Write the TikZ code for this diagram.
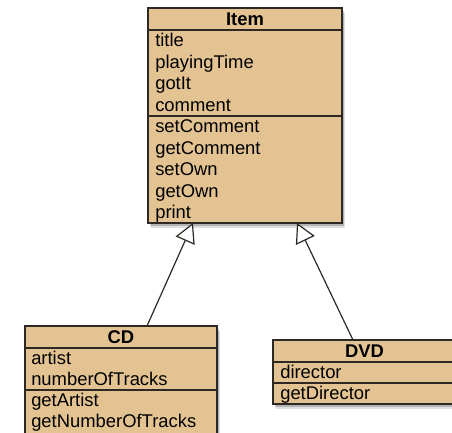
\documentclass[tikz,border=0pt]{standalone}
\usepackage{fontspec}
\setmainfont{Liberation Sans}
\usetikzlibrary{arrows.meta,shadows,calc}
\definecolor{classfill}{RGB}{227,195,146}
\definecolor{classline}{RGB}{45,40,35}
\tikzset{
  classbox/.style={draw=classline, line width=1.1pt, fill=classfill, inner sep=0pt, outer sep=0pt,
    general shadow={shadow xshift=2pt, shadow yshift=-3.5pt, opacity=0.12, fill=black},
    general shadow={shadow xshift=1.2pt, shadow yshift=-2.2pt, opacity=0.2, fill=black}},
  divider/.style={draw=classline, line width=1pt},
  member/.style={anchor=west, inner sep=0pt, text height=9.8pt, text depth=2.8pt,
    font=\fontsize{13.8}{16}\selectfont, text=black},
  classname/.style={member, anchor=center, font=\fontsize{13.8}{16}\selectfont\bfseries},
  inherits/.style={draw=classline, line width=0.9pt,
    -{Triangle[open, fill=white, length=14.5pt, width=15.5pt, line width=0.9pt]}}
}
\begin{document}
\begin{tikzpicture}[x=0.75pt, y=-0.75pt]
  \useasboundingbox (0,0) rectangle (452,432);
  \clip (0,0) rectangle (452,432);

  % class boxes
  \node[classbox, minimum width=145.5pt, minimum height=161.25pt] (item) at (245,115.5) {};
  \node[classbox, minimum width=144pt, minimum height=81pt] (cd) at (121,380) {};
  \node[classbox, minimum width=137.25pt, minimum height=48pt] (dvd) at (364.5,372) {};

  % compartment dividers
  \draw[divider] (148,30) -- (342,30);
  \draw[divider] (148,116) -- (342,116);
  \draw[divider] (25,348) -- (217,348);
  \draw[divider] (25,390) -- (217,390);
  \draw[divider] (273,362) -- (456,362);
  \draw[divider] (273,383) -- (456,383);

  % Item
  \node[classname] (item-name) at (245,20.5) {Item};
  \node[member] (item-a1) at (155,42.2) {title};
  \node[member] (item-a2) at (155,63.7) {playingTime};
  \node[member] (item-a3) at (155,85.2) {gotIt};
  \node[member] (item-a4) at (155,106.7) {comment};
  \node[member] (item-m1) at (155,128.2) {setComment};
  \node[member] (item-m2) at (155,149.6) {getComment};
  \node[member] (item-m3) at (155,171) {setOwn};
  \node[member] (item-m4) at (155,192.4) {getOwn};
  \node[member] (item-m5) at (155,213.8) {print};

  % CD
  \node[classname] (cd-name) at (121,338.5) {CD};
  \node[member] (cd-a1) at (31,360) {artist};
  \node[member] (cd-a2) at (31,381) {numberOfTracks};
  \node[member] (cd-m1) at (31,402) {getArtist};
  \node[member] (cd-m2) at (31,423) {getNumberOfTracks};

  % DVD
  \node[classname] (dvd-name) at (364.5,352.5) {DVD};
  \node[member] (dvd-a1) at (280,374) {director};
  \node[member] (dvd-m1) at (280,395) {getDirector};

  % generalisation arrows
  \draw[inherits] ($(cd.north west)+(122,0)$) -- ($(item.south west)+(45,0)$);
  \draw[inherits] ($(dvd.north west)+(80,0)$) -- ($(item.south west)+(149,0)$);
\end{tikzpicture}
\end{document}
